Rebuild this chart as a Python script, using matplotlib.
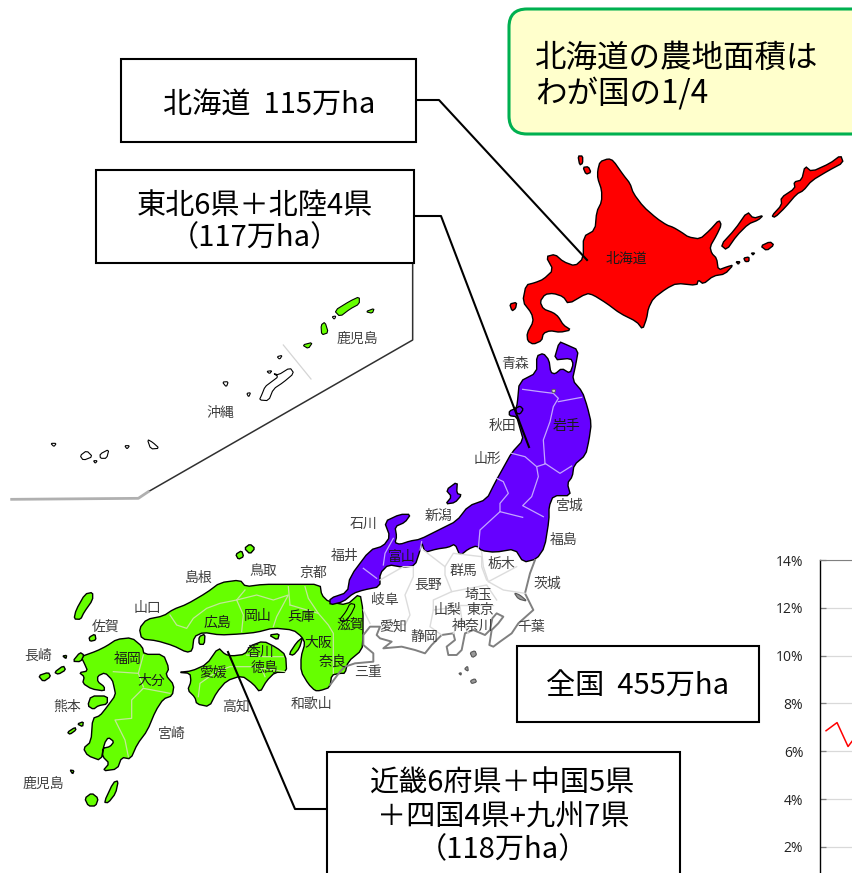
import matplotlib
matplotlib.use("Agg")
import matplotlib.pyplot as plt
from matplotlib.patches import Polygon, Rectangle, FancyBboxPatch

plt.rcParams['font.family'] = ['Noto Sans CJK JP', 'DejaVu Sans']

W, H = 852, 873

# ---- outlines, in the pixels of three zoomed crops ----
# hokkaido crop: origin (500,140), 3x
hokkaido = [(293,92),(300,65),(325,56),(340,62),(370,105),(390,130),(400,160),(430,200),(470,235),(500,255),
            (520,262),(545,277),(565,291),(600,297),(630,270),(657,240),(664,255),(650,285),(630,320),(635,340),
            (650,355),(655,390),(682,380),(700,375),(675,402),(640,408),(610,432),(595,420),(590,436),(530,430),(500,445),
            (460,475),(445,505),(440,535),(428,568),(410,545),(360,520),(320,490),(280,465),(260,460),(205,492),
            (190,470),(160,460),(135,463),(120,485),(130,507),(160,518),(175,530),(190,555),(213,570),(180,577),
            (150,572),(130,580),(125,602),(100,613),(83,603),(81,580),(100,545),(95,520),(68,485),(78,435),
            (105,428),(130,418),(160,390),(138,350),(165,343),(190,365),(225,378),(250,355),(250,290),(285,270),
            (290,215),(305,185),(305,150),(293,115)]
hokkaido_isles = [
    [(662,315),(705,268),(742,215),(760,235),(790,226),(775,240),(745,252),(710,287),(680,330)],
    [(815,228),(845,195),(843,173),(885,145),(882,126),(905,120),(915,78),(935,95),(990,70),(1022,46),(1030,68),
     (985,92),(935,122),(910,152),(890,162),(855,203),(825,232)],
    [(782,318),(810,305),(822,315),(800,332)],
    [(731,354),(747,351),(747,364),(736,365)],
    [(249,82),(265,80),(273,97),(258,103)],
    [(234,48),(248,48),(248,70),(239,75)],
    [(29,492),(50,487),(47,505),(36,513)],
    [(708,365),(720,365),(715,373)],
    [(754,339),(764,339),(759,345)],
]

# tohoku crop: origin (340,340), 3x
tohoku = [(590,48),(610,40),(627,60),(632,97),(645,102),(665,85),(690,100),(700,72),(692,55),(642,60),(658,5),(677,13),
          (715,30),(707,75),(697,120),(727,155),(742,200),(754,250),(747,300),(737,345),(702,375),(697,410),(682,430),
          (692,467),(640,467),(627,500),(627,540),(614,622),(590,657),(550,667),(525,627),(465,637),(425,632),(410,617),
          (385,627),(360,647),(345,612),(325,622),(290,627),(255,637),(245,607),(240,632),(225,677),(190,682),(145,674),
          (120,700),(120,740),(70,750),(40,760),(10,785),(-30,795),(-30,775),(22,757),(30,710),(90,630),(130,618),
          (150,590),(133,545),(180,523),(212,523),(195,547),(165,560),(170,590),(165,608),(180,613),(210,603),(240,598),
          (300,568),(350,543),(385,498),(440,478),(465,428),(490,383),(515,338),(550,300),(540,265),(530,230),(508,227),
          (508,213),(528,205),(532,190),(538,125),(590,98)]
oga_lagoon = [(527,205),(540,198),(550,208),(540,222),(530,220)]
sado = [(317,492),(335,470),(318,450),(352,425),(350,460),(365,465),(345,488)]
tohoku_borders = [
    [(548,148),(600,155),(640,160),(655,175),(640,200),(630,245),(610,300),(615,370)],
    [(655,185),(725,172)],
    [(615,370),(660,400),(695,378)],
    [(515,340),(555,350),(590,380),(615,372)],
    [(590,380),(595,410),(575,470),(548,497),(610,530)],
    [(470,415),(490,425),(505,460),(480,490),(480,515),(548,532)],
    [(480,515),(420,570),(415,625)],
    [(160,595),(135,640),(130,675)],
    [(70,685),(110,715)],
    [(245,605),(240,630)],
]
towada = [(635,148),(647,148),(645,158),(637,158)]

# west crop: origin (0,540), 3x
west_honshu = [(418,265),(440,238),(490,228),(520,208),(560,193),(620,158),(660,128),(720,120),(737,140),(790,133),
               (870,133),(960,133),(965,165),(985,185),(1040,195),(1080,160),(1089,210),(1089,290),(1086,330),(1044,365),
               (1035,400),(1020,400),(995,405),(990,442),(960,452),(945,452),(925,432),(903,395),(903,350),(915,310),
               (905,290),(880,270),(820,264),(770,277),(720,282),(660,285),(610,277),(582,290),(577,332),(560,337),
               (520,317),(470,302),(425,297)]
shikoku = [(535,397),(575,393),(620,373),(655,323),(675,343),(695,348),(735,343),(750,318),(790,303),(830,323),(857,345),
           (860,397),(825,397),(800,422),(780,457),(760,432),(725,407),(680,422),(650,457),(628,500),(590,492),(585,472),
           (563,450),(573,425),(570,400)]
kyushu = [(243,350),(290,333),(320,318),(350,298),(395,293),(427,320),(432,343),(490,343),(507,385),(497,405),(522,435),
          (517,467),(490,477),(467,512),(442,572),(412,612),(392,657),(365,652),(352,687),(308,693),(328,670),(308,650),
          (308,625),(330,620),(342,605),(325,592),(313,610),(303,662),(263,647),(250,625),(273,605),(278,535),(300,527),
          (320,502),(347,465),(342,440),(337,420),(315,398),(293,408),(293,425),(313,440),(313,453),(275,447),(248,430),
          (253,410),(238,398),(263,393),(253,370)]
west_isles = [
    [(263,497),(273,468),(322,468),(322,492),(295,497),(280,508)],
    [(222,237),(228,210),(255,162),(278,157),(278,180),(252,217),(242,238)],
    [(267,292),(285,282),(288,300),(270,304)],
    [(115,407),(145,397),(152,410),(130,425)],
    [(163,397),(190,377),(197,390),(175,403)],
    [(218,364),(240,337),(252,345),(242,365)],
    [(733,25),(750,12),(765,25),(750,42)],
    [(707,43),(725,32),(731,50),(715,58)],
    [(312,787),(340,727),(355,722),(347,760),(325,788)],
    [(254,775),(275,759),(295,775),(287,798),(265,798)],
    [(202,577),(225,562),(228,570),(210,583)],
    [(232,552),(250,545),(248,560)],
    [(867,342),(890,307),(908,292),(898,325),(880,346)],
    [(807,285),(838,281),(833,300)],
    [(597,290),(615,282),(613,313),(597,313)],
    [(188,348),(200,346),(198,356)],
    [(210,690),(222,692),(218,702)],
]
west_borders = [
    [(510,225),(530,255),(560,265),(580,235),(620,205),(660,190),(710,180),(735,150)],
    [(710,180),(730,225),(725,275)],
    [(710,180),(770,165),(820,180),(865,165),(830,230),(820,260)],
    [(865,140),(870,195)],
    [(915,140),(925,175),(955,220),(985,255),(1000,280),(1000,400)],
    [(870,195),(955,220)],
    [(430,345),(415,400),(430,440)],
    [(340,395),(415,400)],
    [(430,445),(395,480),(395,535),(345,540),(375,600),(385,650)],
    [(430,445),(510,460)],
    [(595,470),(600,430),(650,395),(690,380),(760,380),(855,395)],
    [(795,410),(785,385)],
    [(740,345),(790,350),(850,350)],
]

# central crop: origin (330,530), 3x
biwa = [(60,220),(77,224),(62,255),(42,277),(28,270),(48,245)]
central_coast = [(615,90),(600,130),(585,190),(610,240),(565,280),(545,310),(510,335),(490,350),(478,345),(485,300),(505,280),
                 (520,260),(500,250),(487,265),(480,300),(465,315),(430,300),(405,310),(395,360),(380,375),(355,375),(350,350),
                 (375,330),(370,310),(335,315),(305,345),(285,370),(255,360),(215,350),(160,355),(185,335),(150,325),(140,315),
                 (150,290),(120,290),(100,315),(100,345),(130,370),(130,395),(75,400),(45,410),(30,425),(0,465)]
central_isles = [[(420,368),(435,362),(440,375),(427,383)], [(403,417),(413,408),(415,424)],
                 [(421,452),(435,446),(440,456),(425,461)], [(386,430),(394,428),(393,436)],
                 [(552,188),(570,195),(592,214),(565,207)]]
central_borders = [
    [(150,150),(220,110),(250,110),(250,140),(225,195),(240,255),(225,285),(200,280)],
    [(100,240),(120,280)],
    [(280,60),(345,110),(345,135),(365,185),(310,210),(310,240),(300,290),(335,315)],
    [(345,110),(370,70),(455,80),(455,110),(470,150)],
    [(455,65),(460,110),(475,155),(560,110)],
    [(475,155),(520,180),(585,190)],
    [(365,185),(470,165),(500,210)],
    [(390,225),(490,225)],
    [(395,265),(415,310)],
    [(310,240),(390,230),(395,265),(370,310)],
]

# okinawa crop: origin (0,280), 3x
satsunan = [[(1003,92),(1050,63),(1078,50),(1078,72),(1050,87),(1020,110)],
            [(963,135),(975,126),(985,158),(965,165)],
            [(907,195),(938,187),(925,206)],
            [(1097,95),(1123,85),(1117,100)]]
okinawa = [[(778,360),(785,345),(795,320),(815,305),(835,290),(820,280),(835,285),(870,263),(882,280),(850,307),(820,327),(806,362)],
           [(152,490),(169,490),(162,500)],
           [(240,527),(260,512),(278,530),(250,541)],
           [(300,522),(327,508),(320,535),(301,535)],
           [(374,497),(389,497),(381,507)],
           [(442,478),(458,487),(478,505),(452,507)],
           [(280,542),(292,542),(286,550)],
           [(667,306),(685,305),(679,321)],
           [(740,340),(752,338),(746,351)],
           [(831,230),(847,226),(839,238)],
           [(800,274),(816,272),(809,281)],
           [(996,110),(1008,108),(1003,118)]]
inset_frame = [(1238,-60),(1238,180),(445,635)]
inset_frame_low = [(445,635),(415,655),(35,658)]
inset_divider = [(850,195),(933,297)]

# prefecture names and where they sit
pref_names = ["青森","秋田","岩手","山形","宮城","新潟","石川","福島","福井","富山","群馬","栃木","長野","茨城",
              "岐阜","埼玉","山梨","東京","神奈川","千葉","愛知","静岡","三重","滋賀","大阪","奈良","鳥取","京都",
              "島根","山口","広島","岡山","兵庫","佐賀","長崎","福岡","大分","香川","徳島","愛媛","高知","和歌山",
              "熊本","宮崎","鹿児島","沖縄","鹿児島","北海道"]
pref_x = [515,503,567,487,570,439,364,564,345,402,463,501,428,547,385,478,447,480,473,531,393,424,368,350,318,333,263,313,
          199,147,217,258,301,106,38,128,151,260,265,213,236,311,67,172,43,220,357,626]
pref_y = [364,426,426,459,506,516,524,540,556,557,571,564,585,584,600,595,610,610,626,627,628,637,672,625,643,662,571,573,
          578,608,623,616,617,627,656,659,681,652,668,673,707,704,707,734,784,413,339,259]
dark_names = ("北海道", "大分", "岩手", "富山", "広島", "岡山", "兵庫", "福岡", "香川", "徳島", "奈良", "大阪", "愛媛", "滋賀")

# callout texts
hokkaido_text = "北海道  115万ha"
tohoku_text = "東北6県＋北陸4県\n（117万ha）"
west_text = "近畿6府県＋中国5県\n＋四国4県+九州7県\n（118万ha）"
total_text = "全国  455万ha"
note_text = "北海道の農地面積は\nわが国の1/4"

# the chart cut off at the bottom right
share_ticks = [2, 4, 6, 8, 10, 12, 14]
share_labels = ["2%", "4%", "6%", "8%", "10%", "12%", "14%"]
share_index = [0, 1, 2, 3]
share_values = [6.86, 7.2, 6.2, 6.8]

RED = "#ff0000"
PURPLE = "#6600ff"
GREEN = "#66ff00"


def crop(pts, x0, y0):
    return [(x0 + x / 3, y0 + y / 3) for x, y in pts]


def soften(pts):
    # one pass of corner cutting so the coast does not look like straight segments
    out = []
    for i, (x, y) in enumerate(pts):
        nx, ny = pts[(i + 1) % len(pts)]
        out.append((0.8 * x + 0.2 * nx, 0.8 * y + 0.2 * ny))
        out.append((0.2 * x + 0.8 * nx, 0.2 * y + 0.8 * ny))
    return out


fig = plt.figure(figsize=(W / 100, H / 100), dpi=100)
ax = fig.add_axes([0, 0, 1, 1])
ax.set_xlim(0, W)
ax.set_ylim(H, 0)
ax.axis("off")


def land(pts, x0, y0, color, lw=1.0, edge="black", z=2):
    ax.add_patch(Polygon(soften(crop(pts, x0, y0)), closed=True, facecolor=color, edgecolor=edge, linewidth=lw, zorder=z))


def lines(groups, x0, y0, color, lw=0.9, z=3):
    for g in groups:
        xs, ys = zip(*crop(g, x0, y0))
        ax.plot(xs, ys, color=color, linewidth=lw, zorder=z, solid_joinstyle="round")


# the map
land(hokkaido, 500, 140, RED)
for p in hokkaido_isles:
    land(p, 500, 140, RED)

for p in [west_honshu, shikoku, kyushu] + west_isles:
    land(p, 0, 540, GREEN, z=2)
lines(west_borders, 0, 540, "#c3e89a", z=3)
land(biwa, 330, 530, GREEN, lw=0.8, z=3)

land(tohoku, 340, 340, PURPLE, z=2.2)
land(sado, 340, 340, PURPLE)
land(oga_lagoon, 340, 340, PURPLE, z=2.3)
lines(tohoku_borders, 340, 340, "#c4a6ff", z=3)
land(towada, 340, 340, "#d0d0d0", lw=0.6, edge="#555555", z=3)

lines([central_coast], 330, 530, "#808080", lw=1.4)
lines(central_borders, 330, 530, "#dcdcdc", lw=1.0)
for p in central_isles:
    land(p, 330, 530, "#9a9a9a", edge="#555555", lw=0.8)

for p in satsunan:
    land(p, 0, 280, GREEN, lw=0.8)
for p in okinawa:
    land(p, 0, 280, "white", lw=0.8)
lines([inset_frame], 0, 280, "#303030", lw=1.1)
lines([inset_frame_low], 0, 280, "#b0b0b0", lw=2.0)
lines([inset_divider], 0, 280, "#d5d5d5", lw=0.9)

for name, x, y in zip(pref_names, pref_x, pref_y):
    ax.text(x, y, name, fontsize=10, ha="center", va="center",
            color="#1a1a1a" if name in dark_names else "#404040", zorder=4)

# leader lines
ax.plot([416, 439, 587], [100, 100, 260], color="black", lw=1.5, zorder=5)
ax.plot([414, 441, 529], [216, 216, 447], color="black", lw=1.5, zorder=5)
ax.plot([228, 295, 326], [652, 809, 809], color="black", lw=1.5, zorder=5)

# callout boxes
for x0, y0, x1, y1 in [(121, 59, 416, 142), (96, 170, 414, 263), (517, 646, 759, 722), (327, 752, 680, 880)]:
    ax.add_patch(Rectangle((x0, y0), x1 - x0, y1 - y0, facecolor="white", edgecolor="black", linewidth=1.5, zorder=6))
ax.text(269, 105, hokkaido_text, fontsize=21, ha="center", va="center", zorder=7)
ax.text(255, 222, tohoku_text, fontsize=21, ha="center", va="center", linespacing=1.12, zorder=7)
ax.text(503, 817, west_text, fontsize=21, ha="center", va="center", linespacing=1.15, zorder=7)
ax.text(638, 687, total_text, fontsize=21, ha="center", va="center", zorder=7)

ax.add_patch(FancyBboxPatch((509, 9), 380, 125, boxstyle="round,pad=0,rounding_size=18", facecolor="#ffffcc",
                            edgecolor="#00b050", linewidth=2.2, zorder=6))
ax.text(535, 76, note_text, fontsize=22.7, ha="left", va="center", linespacing=1.1, zorder=7)

# partial line chart
cx = fig.add_axes([820 / W, 0, 32 / W, (H - 560) / H], facecolor="none")
cx.set_xlim(-0.55, 2.36)
cx.set_ylim(0.91, 14)
cx.plot(share_index, share_values, color="#ff0000", linewidth=1.1)
cx.set_yticks(share_ticks)
cx.set_yticklabels(share_labels, fontsize=10, family="Open Sans", color="#222222")
cx.grid(axis="y", color="#d9d9d9", linewidth=0.9)
cx.set_axisbelow(True)
cx.set_xticks([])
cx.tick_params(axis="y", direction="in", length=4.5, width=0.9, color="#808080", pad=12)
for s in ("right", "bottom"):
    cx.spines[s].set_visible(False)
cx.spines["left"].set_color("black")
cx.spines["left"].set_linewidth(1.0)
cx.spines["top"].set_color("#808080")

fig.savefig("out.png", dpi=100)
